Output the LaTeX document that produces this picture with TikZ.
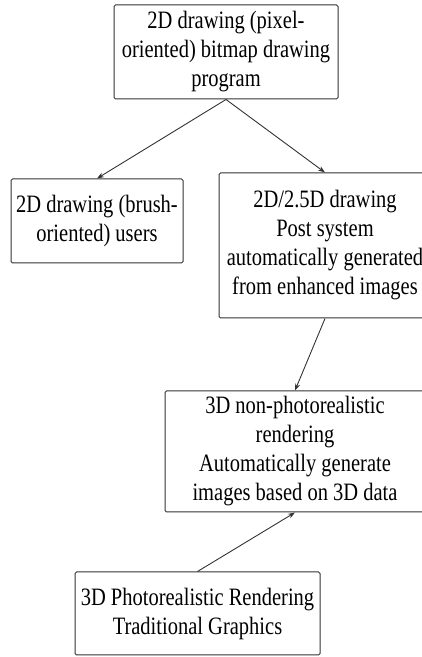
\documentclass[tikz,border=0pt]{standalone}
\usepackage{fontspec}
\setmainfont{Liberation Serif}[FakeStretch=0.82]
\usetikzlibrary{arrows.meta}

\begin{document}
\begin{tikzpicture}[x=1pt, y=1pt,
  box/.style={draw=black!80, line width=1pt, rounded corners=1.5pt, align=center,
    inner sep=0pt, font=\fontsize{25}{29}\selectfont},
  arr/.style={-{Stealth[length=7pt,width=5pt]}, line width=0.9pt, draw=black!80}]
  % page frame
  \useasboundingbox (0,0) rectangle (422,657);
  % boxes
  \node[box, minimum width=224, minimum height=94] (bitmap) at (226,605)
    {2D drawing (pixel-\\oriented) bitmap drawing\\program};
  \node[box, minimum width=172, minimum height=84] (brush) at (97,436)
    {2D drawing (brush-\\oriented) users};
  \node[box, minimum width=212, minimum height=145] (post) at (325,411.5)
    {2D/2.5D drawing\\Post system\\automatically generated\\from enhanced images};
  \node[box, minimum width=260, minimum height=121] (npr) at (295,205.5)
    {3D non-photorealistic\\rendering\\Automatically generate\\images based on 3D data};
  \node[box, minimum width=245, minimum height=83] (photo) at (197.5,43.5)
    {3D Photorealistic Rendering\\Traditional Graphics};
  % arrows
  \draw[arr] (bitmap.south) -- (brush.north);
  \draw[arr] (bitmap.south) -- (post.north);
  \draw[arr] (post.south) -- (npr.north);
  \draw[arr] (photo.north) -- (npr.south);
\end{tikzpicture}
\end{document}
